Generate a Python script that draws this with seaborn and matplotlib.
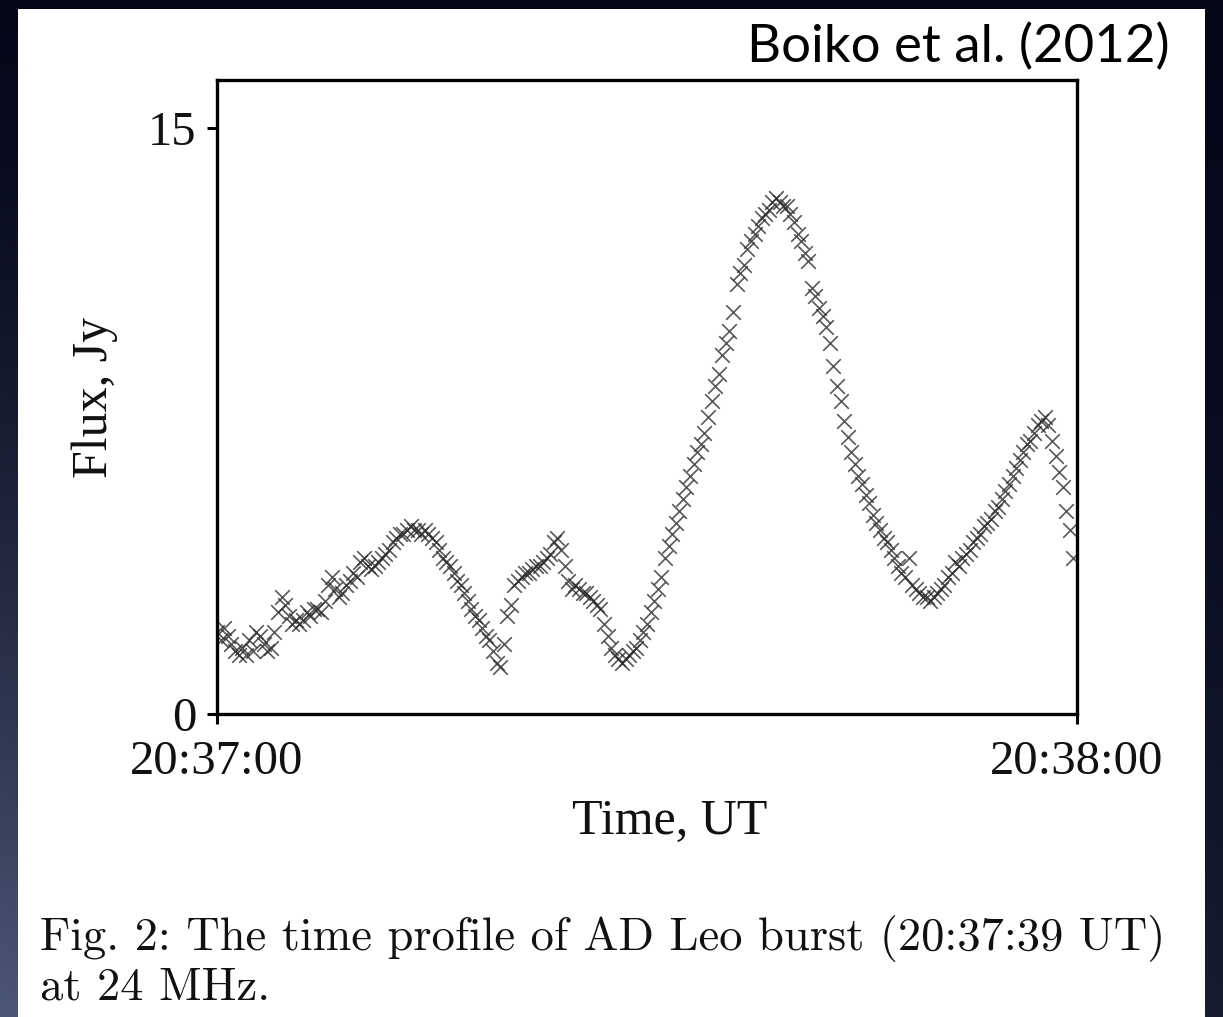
import numpy as np
import pandas as pd
import matplotlib
matplotlib.use("Agg")
import matplotlib.pyplot as plt
import seaborn as sns
from matplotlib.patches import Rectangle

# ---------------- data ----------------
sample_step_s = 0.25          # one reading every quarter second, 20:37:00 -> 20:38:00
flux_jy = [
    2.1, 1.9, 2.2, 2.0,   1.8, 1.6, 1.5, 1.7,   1.5, 1.9, 1.6, 2.1,   2.0, 1.8, 1.6, 1.7,
    2.1, 2.6, 3.0, 2.8,   2.5, 2.3, 2.4, 2.3,   2.4, 2.6, 2.5, 2.7,   2.7, 2.6, 2.9, 3.3,
    3.5, 3.2, 3.0, 3.1,   3.3, 3.4, 3.6, 3.5,   3.9, 4.0, 3.8, 3.7,   3.8, 3.9, 4.0, 4.1,
    4.2, 4.4, 4.5, 4.6,   4.6, 4.7, 4.8, 4.7,   4.7, 4.6, 4.7, 4.6,   4.5, 4.4, 4.2, 4.0,
    3.9, 3.8, 3.6, 3.4,   3.3, 3.1, 2.9, 2.7,   2.5, 2.4, 2.2, 2.0,   1.9, 1.6, 1.3, 1.2,
    1.8, 2.5, 2.8, 3.3,   3.4, 3.5, 3.6, 3.6,   3.7, 3.8, 3.8, 3.9,   4.0, 4.1, 4.4, 4.5,
    4.2, 3.8, 3.4, 3.2,   3.3, 3.2, 3.1, 3.1,   3.0, 2.9, 2.8, 2.7,   2.3, 2.0, 1.7, 1.5,
    1.4, 1.3, 1.4, 1.5,   1.6, 1.7, 1.9, 2.1,   2.3, 2.6, 2.9, 3.2,   3.5, 4.0, 4.3, 4.6,
    4.9, 5.2, 5.5, 5.8,   6.1, 6.4, 6.7, 6.9,   7.2, 7.6, 8.0, 8.4,   8.7, 9.2, 9.5, 9.8,
    10.3, 11.0, 11.3, 11.5, 11.9, 12.1, 12.3, 12.5, 12.7, 12.8, 12.9, 13.1, 13.2, 13.1, 13.0, 13.0,
    12.8, 12.6, 12.3, 12.1, 11.8, 11.6, 10.9, 10.7, 10.4, 10.2, 9.9, 9.5,  8.9, 8.4, 8.0, 7.5,
    7.1, 6.7, 6.4, 6.1,   5.9, 5.6, 5.4, 5.1,   4.9, 4.7, 4.5, 4.4,   4.2, 4.0, 3.8, 3.6,
    3.5, 4.0, 3.3, 3.2,   3.1, 3.0, 3.0, 2.9,   3.0, 3.1, 3.2, 3.3,   3.5, 3.6, 3.9, 3.8,
    4.0, 4.1, 4.2, 4.4,   4.5, 4.6, 4.8, 4.9,   5.0, 5.2, 5.3, 5.5,   5.7, 5.9, 6.1, 6.3,
    6.5, 6.7, 6.9, 7.0,   7.2, 7.4, 7.5, 7.6,   7.4, 7.0, 6.6, 6.2,   5.8, 5.2, 4.7, 4.0,
]
time_s = np.arange(len(flux_jy)) * sample_step_s

x_ticks = [0, 60]
x_tick_labels = ["20:37:00", "20:38:00"]
y_ticks = [0, 15]
y_tick_labels = ["0", "15"]
y_max = 16.23

df = pd.DataFrame({"time_s": time_s, "flux_jy": flux_jy})

# ---------------- style ----------------
sns.set_theme(style="white")
plt.rcParams["font.family"] = ["Liberation Serif", "DejaVu Serif"]

W, H = 1223, 1017
fig = plt.figure(figsize=(W / 100, H / 100), dpi=100)

# slide background (dark navy, lighter toward lower left) + white panel
bg = fig.add_axes([0, 0, 1, 1], zorder=-10)
ny, nx = 120, 150
yy, xx = np.mgrid[0:1:ny * 1j, 0:1:nx * 1j]   # yy: 0 top -> 1 bottom
glow = np.clip(yy * (1.0 - 0.6 * xx), 0, 1) ** 1.5
top = np.array([0.02, 0.03, 0.10])
low = np.array([0.30, 0.34, 0.46])
rgb = top[None, None, :] * (1 - glow[..., None]) + low[None, None, :] * glow[..., None]
bg.imshow(rgb, extent=[0, 1, 0, 1], aspect="auto", origin="upper", interpolation="bilinear")
bg.add_patch(Rectangle((18 / W, 0), (1205 - 18) / W, (H - 9) / H,
                       facecolor="white", edgecolor="none"))
bg.set_xlim(0, 1)
bg.set_ylim(0, 1)
bg.axis("off")

# ---------------- chart ----------------
ax = fig.add_axes([217 / W, (H - 714) / H, (1077 - 217) / W, (714 - 80) / H])
ax.set_facecolor("white")
sns.scatterplot(data=df, x="time_s", y="flux_jy", marker="x", s=110,
                color="#2e2e2e", linewidth=1.2, alpha=0.8, ax=ax, legend=False)

ax.set_xlim(0, 60)
ax.set_ylim(0, y_max)
ax.set_xticks(x_ticks)
ax.set_xticklabels(x_tick_labels)
ax.set_yticks(y_ticks)
ax.set_yticklabels(y_tick_labels)
for sp in ax.spines.values():
    sp.set_visible(True)
    sp.set_color("black")
    sp.set_linewidth(2.4)
ax.tick_params(axis="both", direction="out", length=7, width=2.2, color="black",
               labelcolor="#111111", labelsize=35, left=True, bottom=True)
ax.tick_params(axis="x", pad=12)
ax.tick_params(axis="y", pad=8)

ax.set_xlabel("Time, UT", fontsize=36, color="#111111")
ax.set_ylabel("Flux, Jy", fontsize=36, color="#111111")
ax.xaxis.set_label_coords((670 - 217) / 860, -0.133)
ax.yaxis.set_label_coords((118 - 217) / 860, 0.5)

# credit line
fig.text(1170 / W, 1 - 62 / H, "Boiko et al. (2012)", ha="right", va="baseline",
         fontsize=38, color="black", family=["Lato", "DejaVu Sans"])

# caption
cap_kw = dict(ha="left", va="baseline", fontsize=33.5, color="#111111",
              family=["cmr10", "Liberation Serif", "DejaVu Serif"])
fig.text(40 / W, 1 - 950 / H, "Fig. 2: The time profile of AD Leo burst (20:37:39 UT)", **cap_kw)
fig.text(40 / W, 1 - 1000 / H, "at 24 MHz.", **cap_kw)

fig.savefig("out.png", dpi=100)
